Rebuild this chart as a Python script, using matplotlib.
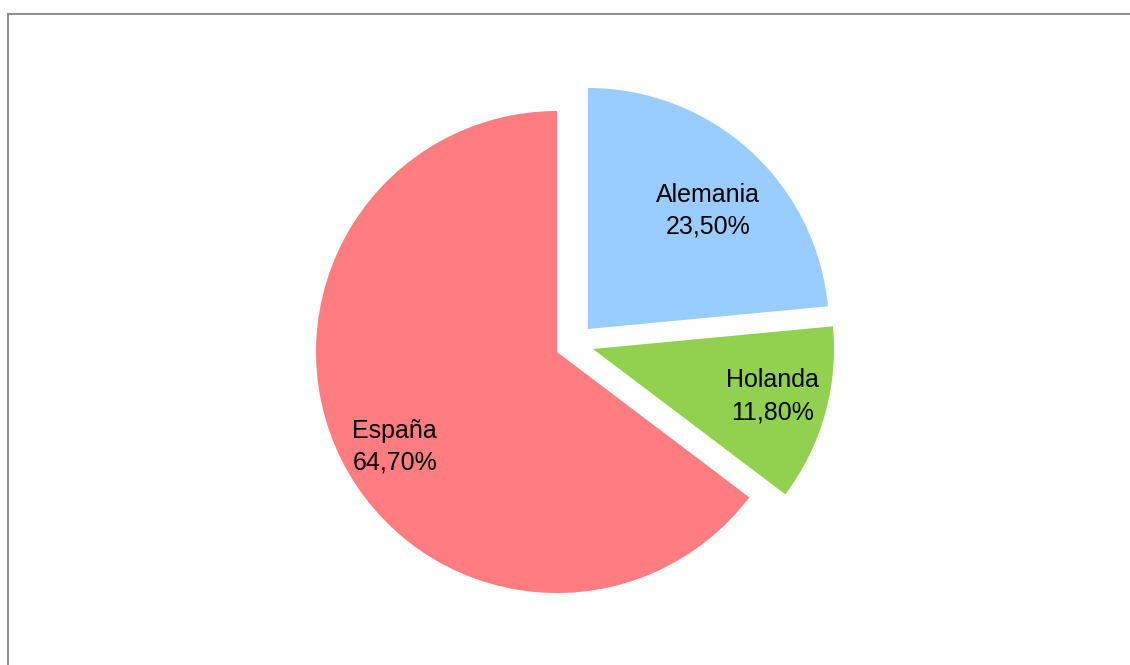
import numpy as np
import matplotlib.pyplot as plt
from matplotlib.lines import Line2D

# data
paises = ['Alemania', 'Holanda', 'España']
valores = [23.5, 11.8, 64.7]
colores = ['#99CCFF', '#92D050', '#FF7C80']

fig = plt.figure(figsize=(11.3, 6.65), dpi=100)
ax = fig.add_axes([0, 0, 1, 1])

R = 241.0  # pie radius in pixels
cx, cy = 557.0, 352.0  # pie centre in pixels (from top-left)

wedges, _ = ax.pie(valores, colors=colores, startangle=90, counterclock=False,
                   radius=1, wedgeprops=dict(linewidth=0), frame=True)
ax.set_xlim(-cx / R, (1130 - cx) / R)
ax.set_ylim(-(665 - cy) / R, cy / R)
ax.set_aspect('auto')
ax.axis('off')

# exploded slices (offsets in radius units)
offsets = [(31 / R, 23 / R), (36 / R, 3 / R), (0, 0)]
label_r = [0.70, 0.77, 0.78]
label_ang = [44.5, -14.7, 210.3]

for w, off, nombre, v, r, a in zip(wedges, offsets, paises, valores, label_r, label_ang):
    w.set_center(off)
    x = off[0] + r * np.cos(np.radians(a))
    y = off[1] + r * np.sin(np.radians(a))
    txt = nombre + '\n' + f'{v:.2f}'.replace('.', ',') + '%'
    ax.text(x, y, txt, ha='center', va='center', multialignment='center',
            fontsize=18, family=['Liberation Sans'],
            color='black', linespacing=1.42)

# outer frame (only top and left visible)
fig.add_artist(Line2D([7.5 / 1130, 1.0], [1 - 13.5 / 665, 1 - 13.5 / 665],
                      transform=fig.transFigure, color='#8c8c8c', lw=1.4))
fig.add_artist(Line2D([7.5 / 1130, 7.5 / 1130], [0, 1 - 13.5 / 665],
                      transform=fig.transFigure, color='#8c8c8c', lw=1.4))

fig.savefig('out.png', dpi=100, facecolor='white')
